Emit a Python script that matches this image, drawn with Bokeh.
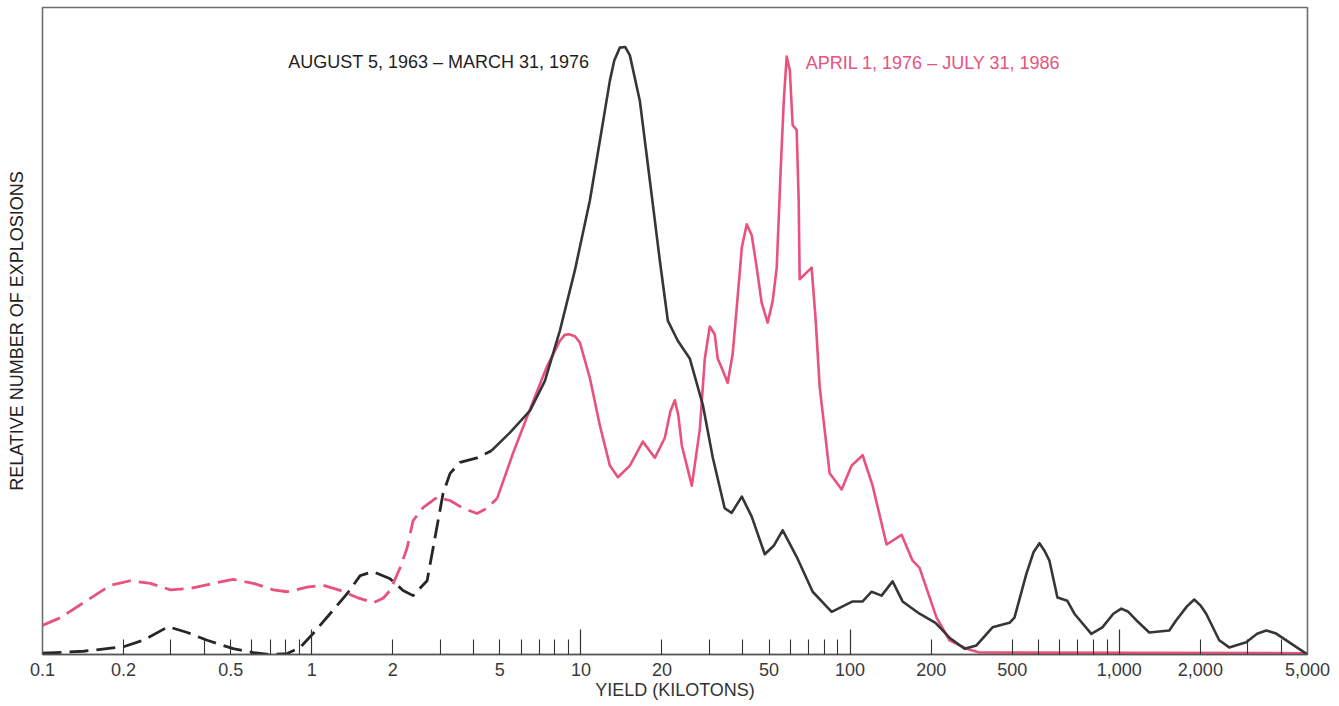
from bokeh.plotting import figure
from bokeh.models import Range1d, LogAxis, FixedTicker, Label
from bokeh.embed import file_html
from bokeh.resources import INLINE

# ---------------- data (yield in kilotons, relative number of explosions) ----------------
black_dash_kt = [0.1, 0.142, 0.2, 0.237, 0.293, 0.345, 0.409, 0.511, 0.607, 0.701,
                 0.811, 0.906, 1.01, 1.17, 1.354, 1.514, 1.69, 1.955, 2.185, 2.38,
                 2.683, 2.80, 2.948, 3.076, 3.266, 3.556, 4.113, 4.65]
black_dash_y = [0.2, 0.5, 1.2, 2.2, 4.3, 3.4, 2.2, 0.9, 0.3, 0.0,
                0.15, 1.1, 3.2, 6.3, 9.4, 12.2, 12.8, 11.7, 9.9, 9.1,
                11.4, 15.6, 20.7, 24.9, 28.0, 29.7, 30.4, 31.5]

black_kt = [4.65, 5.45, 6.47, 7.35, 8.36, 9.50, 10.8, 11.76, 12.81, 13.3,
            13.95, 14.6, 15.2, 16.55, 18.03, 19.64, 21.03, 22.9, 25.4, 28.4,
            30.9, 34.2, 36.3, 39.6, 43.1, 48.2, 52.0, 56.2, 63.3, 72.6,
            85.4, 102.2, 111.3, 120.2, 130.9, 143.8, 156.6, 181.1, 207.5, 234,
            266, 294.7, 338, 390.8, 407.8, 451.8, 480, 505, 528, 550,
            589, 641, 681, 787, 865, 950, 1017, 1080, 1156, 1292,
            1533, 1627, 1780, 1898, 2000, 2102, 2350, 2559, 2960, 3250,
            3512, 3800, 4026, 5000]
black_y = [31.5, 34.3, 37.7, 42.3, 50.1, 59.4, 70.2, 79.4, 88.7, 91.8,
           93.8, 93.9, 92.6, 85.6, 73.3, 60.9, 51.6, 48.5, 45.7, 38.5,
           30.4, 22.6, 21.9, 24.4, 21.3, 15.5, 16.8, 19.2, 15.1, 9.7,
           6.6, 8.2, 8.2, 9.7, 9.1, 11.3, 8.2, 6.3, 4.9, 2.6,
           0.9, 1.4, 4.2, 4.9, 5.7, 12.5, 15.8, 17.2, 16.0, 14.5,
           8.8, 8.3, 6.3, 3.2, 4.2, 6.3, 7.1, 6.6, 5.3, 3.4,
           3.7, 5.3, 7.4, 8.5, 7.6, 6.3, 2.2, 1.1, 1.9, 3.2,
           3.7, 3.3, 2.6, 0.0]

pink_dash_kt = [0.1, 0.1166, 0.142, 0.1788, 0.212, 0.2517, 0.2985, 0.354, 0.431, 0.511,
                0.607, 0.72, 0.811, 0.962, 1.103, 1.276, 1.475, 1.69, 1.842, 1.955,
                2.13, 2.262, 2.38, 2.593, 2.922, 3.266, 3.649, 4.113, 4.478, 4.88]
pink_dash_y = [4.5, 5.7, 8.0, 10.7, 11.4, 11.0, 10.0, 10.2, 11.0, 11.6,
               11.0, 10.0, 9.7, 10.4, 10.7, 9.9, 8.8, 8.0, 8.7, 9.9,
               13.4, 16.5, 20.7, 22.7, 24.3, 23.8, 22.6, 21.8, 22.6, 24.1]

pink_kt = [4.88, 5.594, 6.47, 7.478, 8.36, 8.7, 9.03, 9.5, 9.915, 10.8,
           11.76, 12.81, 13.72, 15.2, 16.98, 18.82, 20.5, 21.5, 22.33, 23.0,
           23.7, 25.82, 27.65, 28.85, 30.11, 31.4, 32.24, 33.65, 35.1, 36.6,
           37.92, 39.6, 41.3, 43.1, 44.98, 46.95, 49.4, 51.6, 53.38, 55.2,
           56.7, 58.13, 59.7, 61.18, 63.3, 64.4, 64.95, 68.4, 71.95, 74.5,
           77.06, 83.95, 93.0, 101.3, 111.3, 121.2, 136.6, 155.3, 170.6, 181.1,
           209.4, 234, 270.6, 302.4, 5000]
pink_y = [24.1, 31.1, 37.9, 44.5, 48.5, 49.4, 49.5, 49.2, 48.2, 42.7,
          35.4, 29.2, 27.4, 29.2, 32.9, 30.4, 33.5, 37.6, 39.3, 37.0,
          32.3, 26.1, 34.8, 45.7, 50.7, 49.5, 45.7, 43.9, 42.0, 46.4,
          53.6, 62.9, 66.5, 64.8, 59.8, 54.3, 51.3, 54.7, 59.8, 74.8,
          85.6, 92.4, 90.3, 81.8, 81.1, 70.2, 58.0, 58.9, 59.8, 51.6,
          41.4, 28.0, 25.5, 29.2, 30.8, 26.1, 17.0, 18.5, 14.5, 13.4,
          5.7, 2.2, 0.9, 0.3, 0.2]

tick_label_values = [0.1, 0.2, 0.5, 1, 2, 5, 10, 20, 50, 100, 200, 400, 1000, 2000, 5000]
tick_label_texts = ["0.1", "0.2", "0.5", "1", "2", "5", "10", "20", "50", "100",
                    "200", "500", "1,000", "2,000", "5,000"]
long_ticks = [1, 10, 100, 1000]
short_ticks = [0.2, 0.3, 0.4, 0.5, 0.6, 0.7, 0.8, 0.9,
               2, 3, 4, 5, 6, 7, 8, 9,
               20, 30, 40, 50, 60, 70, 80, 90,
               200, 400, 500, 600, 700, 800, 900,
               2000, 3000, 4000]

label_early = "AUGUST 5, 1963 – MARCH 31, 1976"
label_late = "APRIL 1, 1976 – JULY 31, 1986"

assert len(black_kt) == len(black_y)
assert len(pink_kt) == len(pink_y)
assert len(black_dash_kt) == len(black_dash_y)
assert len(pink_dash_kt) == len(pink_dash_y)

# ---------------- styling ----------------
FONT = "Liberation Sans"
BLACK = "#363636"
PINK = "#e8527c"

p = figure(width=1337, height=706, x_axis_type="log",
           x_range=Range1d(0.1, 5000), y_range=Range1d(0, 100),
           output_backend="svg", toolbar_location=None,
           min_border_left=42, min_border_right=30, min_border_top=7, min_border_bottom=52)
p.grid.visible = False
p.outline_line_color = "#6e6e6e"
p.outline_line_width = 1.6
p.background_fill_color = "white"
p.border_fill_color = "white"

# tick axis (nearest to frame): long and short ticks pointing inward, blank labels
ax = p.xaxis[0]
ax.ticker = FixedTicker(ticks=long_ticks, minor_ticks=short_ticks)
ax.major_tick_in = 25
ax.major_tick_out = 0
ax.minor_tick_in = 15
ax.minor_tick_out = 0
ax.major_tick_line_color = "#333333"
ax.minor_tick_line_color = "#333333"
ax.major_tick_line_width = 1.2
ax.minor_tick_line_width = 1.1
ax.major_label_overrides = {t: " " for t in long_ticks}
ax.major_label_text_font_size = "1px"
ax.major_label_standoff = 0
ax.axis_line_color = "#555555"
ax.axis_line_width = 1.6

# label axis
lab = LogAxis(ticker=FixedTicker(ticks=tick_label_values, minor_ticks=[]),
              major_label_overrides=dict(zip(tick_label_values, tick_label_texts)))
lab.axis_line_color = None
lab.major_tick_line_color = None
lab.minor_tick_line_color = None
lab.major_tick_in = 0
lab.major_tick_out = 0
lab.minor_tick_in = 0
lab.minor_tick_out = 0
lab.major_label_standoff = 4
lab.major_label_text_font = FONT
lab.major_label_text_font_size = "18px"
lab.major_label_text_color = "#3a3a3a"
lab.axis_label = "YIELD (KILOTONS)"
lab.axis_label_text_font = FONT
lab.axis_label_text_font_size = "18px"
lab.axis_label_text_font_style = "normal"
lab.axis_label_text_color = "#333333"
lab.axis_label_standoff = 1
p.add_layout(lab, "below")

ya = p.yaxis[0]
ya.ticker = FixedTicker(ticks=[50], minor_ticks=[])
ya.major_label_overrides = {50: " "}
ya.axis_line_color = None
ya.major_tick_line_color = None
ya.minor_tick_line_color = None
ya.major_tick_out = 0
ya.major_tick_in = 0
ya.major_label_text_font_size = "1px"
ya.major_label_standoff = 0
ya.axis_label = "RELATIVE NUMBER OF EXPLOSIONS"
ya.axis_label_text_font = FONT
ya.axis_label_text_font_size = "18px"
ya.axis_label_text_font_style = "normal"
ya.axis_label_text_color = "#222222"
ya.axis_label_standoff = 12

# curves
p.line(pink_dash_kt, pink_dash_y, line_color=PINK, line_width=2.8, line_dash="19 8",
       line_join="round")
p.line(pink_kt, pink_y, line_color=PINK, line_width=2.6, line_join="round")
p.line(black_dash_kt, black_dash_y, line_color="#262626", line_width=2.8, line_dash="19 8",
       line_join="round")
p.line(black_kt, black_y, line_color=BLACK, line_width=2.6, line_join="round")

p.add_layout(Label(x=0.818, y=91.5, text=label_early, text_font=FONT, text_font_size="18px",
                   text_color="#1e1e1e", text_baseline="middle", text_align="left"))
p.add_layout(Label(x=68.4, y=91.4, text=label_late, text_font=FONT, text_font_size="18px",
                   text_color=PINK, text_baseline="middle", text_align="left"))

open("out.html", "w").write(file_html(p, INLINE))
